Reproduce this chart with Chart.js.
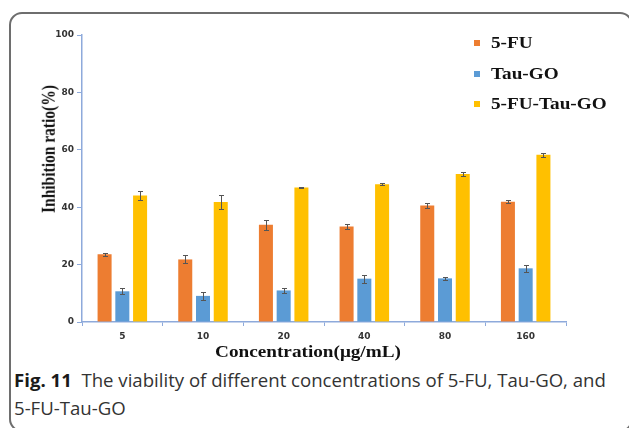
<!DOCTYPE html>
<html>
<head>
<meta charset="utf-8">
<script src="https://cdn.jsdelivr.net/npm/chart.js@4/dist/chart.umd.min.js"></script>
<style>
  html, body { margin: 0; padding: 0; background: #fff; overflow: hidden; }
  body { width: 629px; height: 428px; position: relative; }
  #frame {
    position: absolute; left: 9px; top: 12px; width: 624px; height: 420px;
    box-sizing: border-box; border: 2px solid #6e6e6e; border-radius: 13px;
  }
  #chart { position: absolute; left: 0; top: 0; }
  .serif { font-family: "Liberation Serif", "Times New Roman", serif; font-weight: bold; color: #111; position: absolute; white-space: nowrap; }
  #ytitle { font-size: 15.5px; left: 48px; top: 149px; transform: translate(-50%, -50%) scaleX(1.25) rotate(-90deg); }
  #xtitle { font-size: 16px; left: 308px; top: 352px; transform: translate(-50%, -50%) scaleX(1.2); }
  .leg { font-size: 16px; left: 491px; transform-origin: left center; transform: translateY(-50%) scaleX(1.2); }
  .sw { position: absolute; width: 6px; height: 6px; left: 474px; }
  #caption {
    position: absolute; left: 14px; top: 366px;
    font-family: "Open Sans", "Noto Sans", sans-serif; font-size: 18.6px; line-height: 28px;
    color: #333; white-space: nowrap;
  }
  #caption b { color: #1a1a1a; }
</style>
</head>
<body>
<div id="frame"></div>
<canvas id="chart" width="629" height="345"></canvas>

<div id="ytitle" class="serif">Inhibition ratio(%)</div>
<div id="xtitle" class="serif">Concentration(μg/mL)</div>

<div class="sw" style="top:40px;background:#ed7d31"></div>
<div class="leg serif" style="top:43px">5-FU</div>
<div class="sw" style="top:71px;background:#5b9bd5"></div>
<div class="leg serif" style="top:74px">Tau-GO</div>
<div class="sw" style="top:101px;background:#ffc000"></div>
<div class="leg serif" style="top:104px">5-FU-Tau-GO</div>

<div id="caption"><b>Fig. 11</b>&nbsp; The viability of different concentrations of 5-FU, Tau-GO, and<br>5-FU-Tau-GO</div>

<script>
const concentrations = ["5", "10", "20", "40", "80", "160"];

const fuValues = [23.6, 21.8, 33.9, 33.3, 40.6, 41.9];
const fuErrors = [0.5, 1.4, 1.8, 0.9, 0.9, 0.5];

const tauValues = [10.7, 9.1, 11.0, 15.1, 15.2, 18.7];
const tauErrors = [1.0, 1.4, 0.9, 1.4, 0.4, 1.2];

const comboValues = [44.1, 41.8, 46.9, 48.0, 51.6, 58.3];
const comboErrors = [1.7, 2.3, 0.2, 0.4, 0.7, 0.7];

const yTicks = [0, 20, 40, 60, 80, 100];

const AXIS_BLUE = "#8eaadb";

// whiskers on top of each bar, positioned through the y scale
const errorBars = {
    id: "errorBars",
    afterDatasetsDraw(chart) {
        const ctx = chart.ctx;
        const y = chart.scales.y;
        ctx.save();
        ctx.strokeStyle = "#555";
        ctx.lineWidth = 1;
        chart.data.datasets.forEach((ds, i) => {
            const meta = chart.getDatasetMeta(i);
            meta.data.forEach((bar, j) => {
                const v = ds.data[j];
                const e = ds.errors[j];
                const top = Math.round(y.getPixelForValue(v + e)) + 0.5;
                const bot = Math.round(y.getPixelForValue(v - e)) + 0.5;
                const x = Math.round(bar.x) + 0.5;
                ctx.beginPath();
                ctx.moveTo(x, top);
                ctx.lineTo(x, bot);
                ctx.moveTo(x - 2.5, top);
                ctx.lineTo(x + 2.5, top);
                ctx.moveTo(x - 2.5, bot);
                ctx.lineTo(x + 2.5, bot);
                ctx.stroke();
            });
        });
        ctx.restore();
    }
};

new Chart(document.getElementById("chart"), {
    type: "bar",
    data: {
        labels: concentrations,
        datasets: [
            { label: "5-FU", data: fuValues, errors: fuErrors, backgroundColor: "#ed7d31" },
            { label: "Tau-GO", data: tauValues, errors: tauErrors, backgroundColor: "#5b9bd5" },
            { label: "5-FU-Tau-GO", data: comboValues, errors: comboErrors, backgroundColor: "#ffc000" }
        ]
    },
    options: {
        responsive: false,
        animation: false,
        devicePixelRatio: 1,
        categoryPercentage: 0.66,
        barPercentage: 0.79,
        layout: { padding: { left: 40, right: 63, top: 35, bottom: 0 } },
        plugins: {
            legend: { display: false },
            tooltip: { enabled: false }
        },
        scales: {
            x: {
                afterFit: s => { s.height = 23; },
                grid: { drawOnChartArea: false, color: AXIS_BLUE, tickLength: 4 },
                border: { color: AXIS_BLUE, width: 1.5 },
                ticks: { color: "#333", padding: 5, font: { family: "DejaVu Sans", size: 9, weight: "bold" } }
            },
            y: {
                min: 0,
                max: 100,
                afterFit: s => { s.width = 42; },
                afterBuildTicks: s => { s.ticks = yTicks.map(v => ({ value: v })); },
                grid: { drawOnChartArea: false, color: AXIS_BLUE, tickLength: 5 },
                border: { color: AXIS_BLUE, width: 1.5 },
                ticks: { color: "#333", padding: 3, font: { family: "DejaVu Sans", size: 9, weight: "bold" } }
            }
        }
    },
    plugins: [errorBars]
});
</script>
</body>
</html>
